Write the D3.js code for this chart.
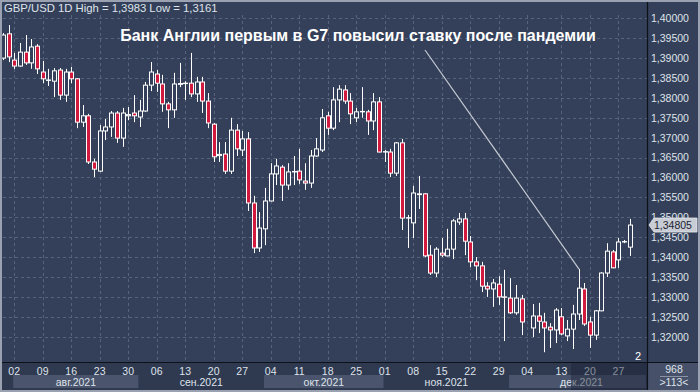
<!DOCTYPE html>
<html><head><meta charset="utf-8">
<script src="https://cdn.jsdelivr.net/npm/d3@7"></script>
<style>html,body{margin:0;padding:0;background:#344059;}svg{display:block;}</style>
</head><body>
<svg id="c" width="700" height="392"></svg>
<script>
const open = [1.3900,1.3961,1.3895,1.3880,1.3915,1.3888,1.3930,1.3865,1.3844,1.3842,
1.3870,1.3807,1.3865,1.3848,1.3739,1.3755,1.3639,1.3616,1.3717,1.3727,
1.3762,1.3699,1.3755,1.3762,1.3752,1.3767,1.3832,1.3860,1.3835,1.3785,
1.3770,1.3834,1.3837,1.3837,1.3810,1.3840,1.3792,1.3734,1.3655,1.3659,
1.3616,1.3719,1.3669,1.3697,1.3536,1.3423,1.3471,1.3541,1.3609,1.3626,
1.3581,1.3614,1.3616,1.3591,1.3586,1.3654,1.3669,1.3755,1.3724,1.3795,
1.3820,1.3792,1.3750,1.3765,1.3765,1.3742,1.3790,1.3664,1.3664,1.3611,
1.3687,1.3498,1.3486,1.3557,1.3559,1.3405,1.3360,1.3410,1.3403,1.3420,
1.3488,1.3496,1.3438,1.3388,1.3378,1.3327,1.3320,1.3332,1.3300,1.3297,
1.3260,1.3295,
1.3222,1.3252,1.3237,1.3224,1.3217,1.3250,1.3202,1.3219,1.3257,1.3320,
1.3237,1.3204,1.3265,1.3360,1.3413,1.3393,1.3438,1.3425];
const high = [1.3963,1.3983,1.3913,1.3938,1.3958,1.3948,1.3935,1.3893,1.3873,1.3875,
1.3875,1.3873,1.3878,1.3850,1.3782,1.3760,1.3647,1.3732,1.3747,1.3767,
1.3767,1.3775,1.3777,1.3807,1.3795,1.3840,1.3890,1.3870,1.3858,1.3790,
1.3863,1.3888,1.3842,1.3913,1.3853,1.3853,1.3812,1.3737,1.3689,1.3689,
1.3750,1.3734,1.3717,1.3714,1.3554,1.3513,1.3574,1.3636,1.3647,1.3631,
1.3636,1.3654,1.3672,1.3636,1.3669,1.3699,1.3772,1.3765,1.3827,1.3832,
1.3832,1.3812,1.3775,1.3827,1.3770,1.3812,1.3802,1.3669,1.3672,1.3689,
1.3697,1.3506,1.3579,1.3604,1.3561,1.3430,1.3425,1.3448,1.3471,1.3496,
1.3511,1.3511,1.3453,1.3400,1.3388,1.3337,1.3345,1.3352,1.3368,1.3347,
1.3330,1.3305,
1.3282,1.3285,1.3260,1.3234,1.3272,1.3272,1.3242,1.3280,1.3370,1.3335,
1.3250,1.3267,1.3362,1.3435,1.3418,1.3448,1.3443,1.3496];
const low = [1.3895,1.3890,1.3873,1.3878,1.3883,1.3873,1.3860,1.3837,1.3830,1.3802,
1.3795,1.3790,1.3837,1.3724,1.3727,1.3634,1.3601,1.3614,1.3694,1.3702,
1.3687,1.3677,1.3744,1.3739,1.3727,1.3765,1.3817,1.3815,1.3765,1.3724,
1.3750,1.3827,1.3795,1.3802,1.3790,1.3762,1.3724,1.3639,1.3639,1.3609,
1.3609,1.3654,1.3654,1.3516,1.3410,1.3413,1.3430,1.3540,1.3581,1.3541,
1.3569,1.3581,1.3584,1.3569,1.3574,1.3652,1.3664,1.3707,1.3719,1.3739,
1.3785,1.3734,1.3739,1.3750,1.3707,1.3719,1.3663,1.3639,1.3601,1.3604,
1.3468,1.3423,1.3448,1.3521,1.3400,1.3355,1.3350,1.3400,1.3402,1.3395,
1.3481,1.3405,1.3375,1.3342,1.3312,1.3300,1.3275,1.3280,1.3189,1.3257,
1.3255,1.3204,
1.3199,1.3209,1.3161,1.3172,1.3184,1.3204,1.3189,1.3169,1.3242,1.3227,
1.3172,1.3192,1.3264,1.3350,1.3372,1.3373,1.3435,1.3403];
const close = [1.3958,1.3903,1.3880,1.3915,1.3888,1.3928,1.3873,1.3848,1.3845,1.3868,
1.3807,1.3865,1.3848,1.3739,1.3755,1.3639,1.3621,1.3717,1.3727,1.3762,
1.3699,1.3762,1.3758,1.3755,1.3767,1.3832,1.3865,1.3837,1.3785,1.3770,
1.3835,1.3836,1.3836,1.3810,1.3840,1.3792,1.3737,1.3652,1.3658,1.3616,
1.3719,1.3672,1.3697,1.3536,1.3423,1.3473,1.3541,1.3609,1.3629,1.3581,
1.3614,1.3615,1.3594,1.3586,1.3654,1.3672,1.3750,1.3724,1.3795,1.3822,
1.3792,1.3760,1.3765,1.3766,1.3742,1.3790,1.3664,1.3665,1.3611,1.3687,
1.3498,1.3499,1.3561,1.3559,1.3403,1.3360,1.3420,1.3405,1.3420,1.3491,
1.3496,1.3440,1.3388,1.3378,1.3327,1.3320,1.3335,1.3300,1.3299,1.3260,
1.3297,1.3237,
1.3252,1.3239,1.3222,1.3217,1.3267,1.3207,1.3219,1.3257,1.3322,1.3232,
1.3204,1.3265,1.3360,1.3415,1.3373,1.3438,1.3439,1.34805];
// slot index of each candle on the time axis (slot 92 has no bar)
const gapSlot = 92;
const weekLabels = ["02","09","16","23","30","06","13","20","27","04","11","18","25","01","08","15","22","29","04","13","20","27"];
const weekSlots  = [2,7,12,17,22,27,32,37,42,47,52,57,62,67,72,77,82,87,92,98,103,108];
const monthLabels = ["авг.2021","сен.2021","окт.2021","ноя.2021","дек.2021"];
const monthStarts = [2,24,46,67,89,113];
const yTicks = d3.range(1.32, 1.40001, 0.005);
const title = "Банк Англии первым в G7 повысил ставку после пандемии";
const header = "GBP/USD 1D High = 1,3983 Low = 1,3161";
const lastPrice = 1.34805;
const annotSlotIdx = 101;

const W = 700, H = 392;
const plotR = 647, plotB = 362, plotT = 15;
const BG = "#344059", GRID = "#56637d", RED = "#d21a3f", TXT = "#dfe3ea";
const FONT = "Liberation Sans, Arial, sans-serif";
const svg = d3.select("#c");
const x = d3.scaleLinear().domain([0, 112]).range([2.8, 641.2]);
const y = d3.scaleLinear().domain([1.32, 1.40]).range([336.7, 18.3]);
const fmt = v => d3.format(".5f")(v).replace(".", ",");

const candles = open.map((o, i) => ({slot: i < gapSlot ? i : i + 1, o, h: high[i], l: low[i], c: close[i]}));

svg.append("rect").attr("width", W).attr("height", H).attr("fill", BG);

// grid
const g = svg.append("g");
g.selectAll(".hg").data(yTicks).join("line")
  .attr("x1", 3).attr("x2", plotR).attr("y1", d => Math.round(y(d)) + 0.5).attr("y2", d => Math.round(y(d)) + 0.5)
  .attr("stroke", GRID).attr("stroke-dasharray", "3,3");
g.selectAll(".vg").data(weekSlots).join("line")
  .attr("y1", plotT).attr("y2", plotB).attr("x1", d => Math.round(x(d)) + 0.5).attr("x2", d => Math.round(x(d)) + 0.5)
  .attr("stroke", GRID).attr("stroke-dasharray", "3,3");

// candles
svg.append("clipPath").attr("id", "pc").append("rect").attr("x", 2).attr("y", plotT).attr("width", plotR - 2).attr("height", plotB - plotT);
const cg = svg.append("g").attr("clip-path", "url(#pc)");
const cs = cg.selectAll("g.cd").data(candles).join("g");
cs.append("line")
  .attr("x1", d => Math.round(x(d.slot)) + 0.5).attr("x2", d => Math.round(x(d.slot)) + 0.5)
  .attr("y1", d => y(d.h)).attr("y2", d => y(d.l))
  .attr("stroke", "#fff").attr("stroke-width", 1);
cs.append("rect")
  .attr("x", d => Math.round(x(d.slot)) - 1.5)
  .attr("width", 4)
  .attr("y", d => y(Math.max(d.o, d.c)))
  .attr("height", d => Math.max(0.01, Math.abs(y(d.o) - y(d.c))))
  .attr("fill", d => d.c >= d.o ? BG : RED)
  .attr("stroke", "#fff").attr("stroke-width", 1);

// annotation line
svg.append("line").attr("x1", 425).attr("y1", 50)
  .attr("x2", x(candles[annotSlotIdx - 1].slot) + 0.5).attr("y2", y(candles[annotSlotIdx - 1].h))
  .attr("stroke", "#c5cad4").attr("stroke-width", 1.2);

svg.append("text").attr("x", 358).attr("y", 41).attr("text-anchor", "middle")
  .attr("font-family", FONT).attr("font-weight", "bold").attr("font-size", 16)
  .attr("fill", "#fff").text(title);

svg.append("text").attr("x", 4).attr("y", 12)
  .attr("font-family", FONT).attr("font-size", 11.3)
  .attr("fill", TXT).text(header);

// bottom axis area
svg.append("rect").attr("x", 0).attr("y", plotB).attr("width", plotR).attr("height", H - plotB).attr("fill", "#2f3a51");
svg.selectAll(".mb").data(monthLabels).join("rect")
  .attr("x", (d, i) => x(monthStarts[i]) - 1).attr("y", 375)
  .attr("width", (d, i) => Math.min(plotR, x(monthStarts[i + 1]) - 1) - (x(monthStarts[i]) - 1))
  .attr("height", 13)
  .attr("fill", (d, i) => i % 2 === 0 ? "#4a556d" : "#2f3a51");
svg.selectAll(".ml").data(monthLabels).join("text")
  .attr("x", (d, i) => (x(monthStarts[i]) - 1 + Math.min(plotR, x(monthStarts[i + 1]) - 1)) / 2 + (i === 4 ? 4 : 0))
  .attr("y", 386).attr("text-anchor", "middle")
  .attr("font-family", FONT).attr("font-size", 10.5)
  .attr("fill", TXT).text(d => d);
svg.selectAll(".wl").data(weekLabels).join("text")
  .attr("x", (d, i) => x(weekSlots[i])).attr("y", 375).attr("text-anchor", "middle")
  .attr("font-family", FONT).attr("font-size", 10.5)
  .attr("fill", TXT).text(d => d);
// darker overlay on axis from mid December
svg.append("rect").attr("x", 571).attr("y", plotB + 1).attr("width", plotR - 571).attr("height", H - plotB - 3)
  .attr("fill", "#1c2436").attr("opacity", 0.45);

// right axis
svg.append("rect").attr("x", plotR).attr("y", 0).attr("width", W - plotR).attr("height", H).attr("fill", BG);
svg.selectAll(".yl").data(yTicks).join("text")
  .attr("x", 651).attr("y", d => y(d) + 3.8)
  .attr("font-family", FONT).attr("font-size", 10.5)
  .attr("fill", TXT).text(d => fmt(d));
// price marker
const py = y(lastPrice);
svg.append("path")
  .attr("d", `M649,${py} L654,${py - 7} L697,${py - 7} L697,${py + 7} L654,${py + 7} Z`)
  .attr("fill", "#c8ccd4").attr("stroke", "#e8eaee").attr("stroke-width", 0.8);
svg.append("text").attr("x", 654).attr("y", py + 3.8)
  .attr("font-family", FONT).attr("font-size", 10.5)
  .attr("fill", "#1c2230").text(fmt(lastPrice));

// bottom-right box
svg.append("rect").attr("x", plotR + 1).attr("y", plotB + 1).attr("width", W - plotR - 3).attr("height", H - plotB - 3).attr("fill", "#465169");
svg.append("text").attr("x", 674).attr("y", 373).attr("text-anchor", "middle")
  .attr("font-family", FONT).attr("font-size", 10.5).attr("fill", TXT).text("968");
svg.append("line").attr("x1", 660).attr("x2", 688).attr("y1", 376.5).attr("y2", 376.5).attr("stroke", "#8a93a6");
svg.append("text").attr("x", 674).attr("y", 386).attr("text-anchor", "middle")
  .attr("font-family", FONT).attr("font-size", 10.5).attr("fill", TXT).text(">113<");
svg.append("text").attr("x", 638).attr("y", 360).attr("text-anchor", "middle")
  .attr("font-family", FONT).attr("font-size", 11).attr("fill", "#fff").text("2");

// frame lines
svg.append("line").attr("x1", plotR + 0.5).attr("x2", plotR + 0.5).attr("y1", 2).attr("y2", H - 2).attr("stroke", "#0d1118").attr("stroke-width", 1.2);
svg.append("line").attr("x1", 2).attr("x2", W - 2).attr("y1", plotB + 0.5).attr("y2", plotB + 0.5).attr("stroke", "#0d1118").attr("stroke-width", 1.2);
svg.append("rect").attr("x", 1).attr("y", 1).attr("width", W - 2).attr("height", H - 2).attr("fill", "none").attr("stroke", "#9aa2b2").attr("stroke-width", 2);
</script>
</body></html>
